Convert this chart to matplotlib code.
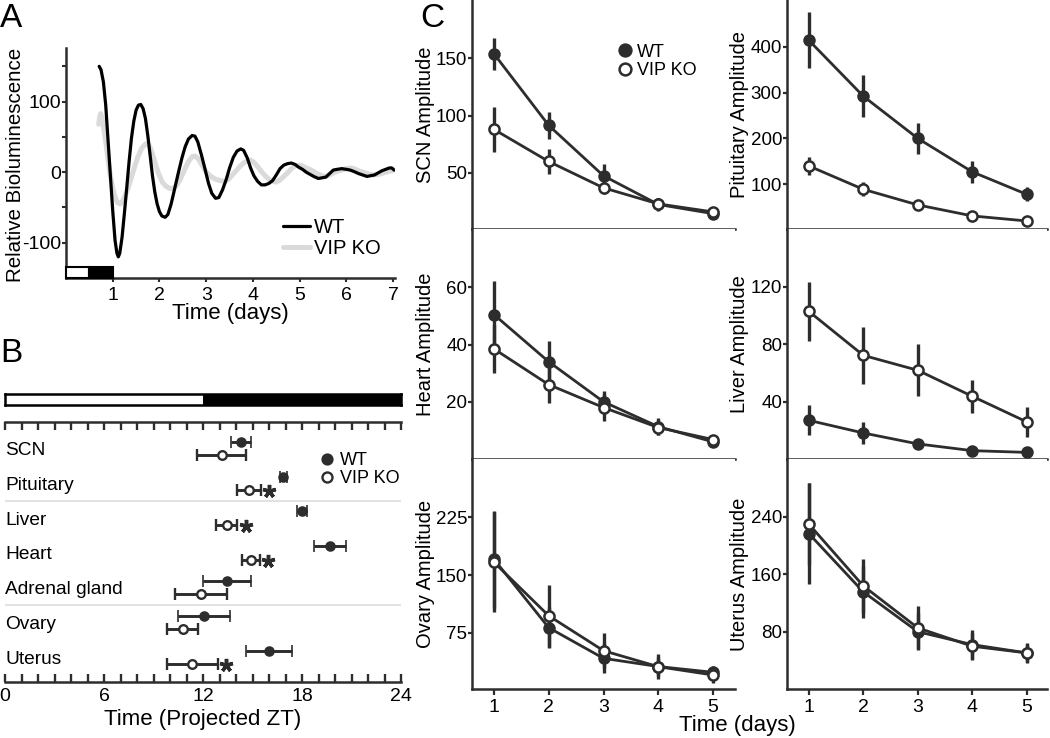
import matplotlib
matplotlib.use('Agg')
import matplotlib.pyplot as plt
from matplotlib.patches import Rectangle
from matplotlib.lines import Line2D
from matplotlib.ticker import MultipleLocator, FixedLocator

plt.rcParams['font.family'] = ['Liberation Sans', 'DejaVu Sans']

DARK = '#2d2d2d'
W, H = 1050, 738

# ---------------- Panel A data (bioluminescence traces) ----------------
a_wt_days = [0.71, 0.75, 0.80, 0.85, 0.90, 0.95, 1.00, 1.05, 1.09, 1.12, 1.15, 1.20, 1.25, 1.30,
             1.35, 1.40, 1.45, 1.50, 1.55, 1.60, 1.65, 1.70, 1.75, 1.80, 1.85, 1.90, 1.95, 2.00,
             2.05, 2.12, 2.18, 2.25, 2.32, 2.40, 2.48, 2.55, 2.62, 2.70, 2.76, 2.82, 2.90, 2.98,
             3.05, 3.12, 3.20, 3.27, 3.35, 3.43, 3.50, 3.58, 3.66, 3.74, 3.80, 3.88, 3.95, 4.02,
             4.10, 4.18, 4.26, 4.34, 4.42, 4.50, 4.58, 4.66, 4.74, 4.82, 4.90, 4.98, 5.06, 5.14,
             5.22, 5.30, 5.40, 5.48, 5.56, 5.64, 5.72, 5.80, 5.90, 6.00, 6.08, 6.16, 6.26, 6.35,
             6.44, 6.52, 6.60, 6.68, 6.76, 6.84, 6.92, 6.97, 7.02]
a_wt_vals = [150, 145, 128, 95, 45, -5, -55, -97, -115, -120, -115, -92, -58, -22,
             15, 48, 72, 88, 95, 96, 90, 76, 52, 24, -5, -28, -45, -56,
             -62, -64, -60, -45, -25, -2, 20, 36, 47, 52, 51, 43, 24, 3,
             -16, -30, -37, -36, -25, -10, 6, 21, 30, 33, 31, 20, 6, -5,
             -13, -18, -18, -16, -12, -4, 5, 10, 12, 13, 11, 7, 4, 0,
             -3, -6, -9, -8, -7, -2, 3, 4, 5, 4, 3, 1, -2, -4,
             -6, -5, -4, -1, 2, 4, 6, 6, 3]
a_ko_days = [0.70, 0.72, 0.74, 0.77, 0.80, 0.85, 0.90, 0.95, 1.00, 1.05, 1.10, 1.16, 1.22, 1.30,
             1.38, 1.46, 1.54, 1.62, 1.70, 1.76, 1.82, 1.90, 1.98, 2.06, 2.14, 2.22, 2.30, 2.38,
             2.46, 2.54, 2.62, 2.70, 2.76, 2.83, 2.92, 3.00, 3.10, 3.20, 3.30, 3.40, 3.48, 3.56,
             3.64, 3.72, 3.80, 3.88, 3.95, 4.02, 4.10, 4.18, 4.26, 4.34, 4.42, 4.50, 4.58, 4.66,
             4.74, 4.82, 4.90, 4.98, 5.06, 5.14, 5.22, 5.30, 5.40, 5.48, 5.56, 5.64, 5.72, 5.80,
             5.90, 6.00, 6.10, 6.20, 6.30, 6.40, 6.50, 6.60, 6.70, 6.80, 6.90, 6.97, 7.02]
a_ko_vals = [68, 78, 83, 78, 65, 43, 18, -5, -22, -35, -43, -45, -40, -28,
             -12, 6, 22, 34, 40, 40, 32, 15, -2, -14, -20, -23, -23, -18,
             -8, 4, 15, 22, 23, 19, 9, 0, -6, -10, -12, -13, -10, -4,
             2, 8, 13, 16, 17, 14, 8, 1, -5, -10, -13, -14, -11, -6,
             -1, 5, 9, 10, 9, 6, 4, 1, -3, -5, -6, -4, -1, 1,
             3, 5, 6, 4, 1, -1, -3, -4, -3, -1, 1, 2, 3]
a_ld_bar = [(0.0, 0.5, 'white'), (0.5, 1.0, 'black')]
a_xticks = [1, 2, 3, 4, 5, 6, 7]
a_yticks = [-100, -50, 0, 50, 100, 150]
a_yticklabels = ['-100', '', '0', '', '100', '']

# ---------------- Panel B data (projected phases) ----------------
tissues = ['SCN', 'Pituitary', 'Liver', 'Heart', 'Adrenal gland', 'Ovary', 'Uterus']
tissue_group_sizes = [2, 3, 2]
b_wt_phase = [14.28, 16.87, 18.02, 19.70, 13.43, 12.06, 16.00]
b_wt_err = [0.60, 0.20, 0.30, 0.95, 1.45, 1.55, 1.37]
b_ko_phase = [13.13, 14.79, 13.43, 14.89, 11.88, 10.77, 11.35]
b_ko_err = [1.50, 0.70, 0.65, 0.55, 1.60, 0.95, 1.55]
b_significant = [False, True, True, True, False, False, True]
b_ld_bar = [(0, 12, 'white'), (12, 24, 'black')]
b_major_ticks = [0, 6, 12, 18, 24]

# ---------------- Panel C data (amplitudes) ----------------
days = [1, 2, 3, 4, 5]
scn_wt = [154, 91.5, 47.5, 22.5, 14.5]
scn_wt_err = [14, 12, 10, 6, 3]
scn_ko = [88, 60, 37, 23, 16]
scn_ko_err = [19.5, 11, 5.5, 5, 3]
pit_wt = [414, 292, 200, 127, 78]
pit_wt_err = [61, 46, 33, 24, 15]
pit_ko = [140, 89, 55, 31, 20]
pit_ko_err = [19, 15, 6, 4, 3]
heart_wt = [50.5, 34, 20, 11.3, 6]
heart_wt_err = [11.7, 7.2, 3.8, 3, 1]
heart_ko = [38.5, 26, 18, 11, 6.8]
heart_ko_err = [8.5, 6.4, 4.7, 2.5, 1]
liver_wt = [27, 18.2, 10.6, 5.9, 4.7]
liver_wt_err = [10.5, 7.4, 2, 1, 1]
liver_ko = [102.8, 72.2, 61.8, 43.7, 25.9]
liver_ko_err = [20.5, 20, 18, 11.7, 10.5]
ovary_wt = [170.5, 81.5, 41.7, 31, 23.5]
ovary_wt_err = [63, 27, 19.5, 12, 8]
ovary_ko = [166.6, 97, 51.6, 30.8, 20]
ovary_ko_err = [65, 40, 23, 16, 10]
uterus_wt = [216.6, 135.4, 80, 62, 50.5]
uterus_wt_err = [70, 36, 26, 21, 14]
uterus_ko = [229.8, 143.7, 85.3, 59.8, 50.5]
uterus_ko_err = [57, 37, 30, 18, 12]

fig = plt.figure(figsize=(W / 100, H / 100), dpi=100)


def px_axes(x0, y0, x1, y1):
    return fig.add_axes([x0 / W, 1 - y1 / H, (x1 - x0) / W, (y1 - y0) / H])


def style_spines(ax, visible=('left', 'bottom'), lw=1.8):
    for s in ['left', 'right', 'top', 'bottom']:
        ax.spines[s].set_visible(s in visible)
        ax.spines[s].set_linewidth(lw)
        ax.spines[s].set_color(DARK)


# ======================= Panel A =======================
axA = px_axes(66, 48, 395, 278)
axA.plot(a_ko_days, a_ko_vals, color='#dadada', lw=3.6, label='VIP KO', zorder=2,
         solid_capstyle='round')
axA.plot(a_wt_days, a_wt_vals, color='black', lw=2.3, label='WT', zorder=3,
         solid_capstyle='round')
axA.set_xlim(0, 7.04)
axA.set_ylim(-150, 176)
for x0, x1, c in a_ld_bar:
    axA.add_patch(Rectangle((x0, -150), x1 - x0, 15.5, facecolor=c, edgecolor='black',
                            lw=1.5, zorder=4, clip_on=False))
style_spines(axA)
axA.set_xticks(a_xticks)
axA.set_yticks(a_yticks)
axA.set_yticklabels(a_yticklabels)
axA.tick_params(axis='both', direction='out', length=3, width=1.5, color=DARK,
                labelsize=14)
axA.tick_params(axis='x', pad=3.5)
axA.tick_params(axis='y', pad=0.5)
axA.set_ylabel('Relative Bioluminescence', fontsize=14.8)
axA.yaxis.set_label_coords(-0.126, 0.49)
axA.set_xlabel('Time (days)', fontsize=16)
axA.xaxis.set_label_coords(0.5, -0.11)
hA, lA = axA.get_legend_handles_labels()
axA.legend([hA[1], hA[0]], [lA[1], lA[0]], loc='upper left', bbox_to_anchor=(0.66, 0.262),
           frameon=False, fontsize=14.5, handlelength=1.35, handletextpad=0.2,
           labelspacing=0.12, borderpad=0, borderaxespad=0)

# ======================= Panel B =======================
# light/dark bar
axBbar = px_axes(5, 394, 401, 405)
axBbar.set_xlim(0, 24)
axBbar.set_ylim(0, 1)
for x0, x1, c in b_ld_bar:
    axBbar.add_patch(Rectangle((x0, 0), x1 - x0, 1, facecolor=c, edgecolor='none'))
for s in axBbar.spines.values():
    s.set_linewidth(1.8)
    s.set_color('black')
axBbar.set_xticks([])
axBbar.set_yticks([])

axB = px_axes(5, 422, 401, 682)
row_pos = list(range(len(tissues)))
off = 0.19
wt_y = [r - off for r in row_pos]
ko_y = [r + off for r in row_pos]
axB.errorbar(b_wt_phase, wt_y, xerr=b_wt_err, fmt='o', color=DARK, ms=6.4, mfc=DARK,
             mec=DARK, mew=1.2, elinewidth=2.1, capsize=4.5, capthick=2.1, zorder=3)
axB.errorbar(b_ko_phase, ko_y, xerr=b_ko_err, fmt='o', color=DARK, ms=6.2, mfc='white',
             mec=DARK, mew=1.7, elinewidth=2.1, capsize=4.5, capthick=2.1, zorder=3)
star_x = [p + e + 0.52 for p, e, s in zip(b_ko_phase, b_ko_err, b_significant) if s]
star_y = [y + 0.04 for y, s in zip(ko_y, b_significant) if s]
axB.plot(star_x, star_y, ls='none', marker=(5, 2, 0), ms=9.5, mew=2.5, color=DARK,
         zorder=3)
for r, name in zip(row_pos, tissues):
    axB.text(0.0, r + 0.06, name, ha='left', va='center', fontsize=13.8)
cum = 0
for g in tissue_group_sizes[:-1]:
    cum += g
    axB.axhline(cum - 0.5, color='#dddddd', lw=1.2, zorder=1)
axB.set_xlim(0, 24)
axB.set_ylim((682 - 448.5) / 34.8, (422 - 448.5) / 34.8)
style_spines(axB, visible=('top', 'bottom'))
axB.set_yticks([])
axB.xaxis.set_major_locator(FixedLocator(b_major_ticks))
axB.xaxis.set_minor_locator(MultipleLocator(1))
axB.tick_params(axis='x', which='both', direction='in', top=True, bottom=True,
                labeltop=False, length=6, width=1.7, color=DARK, labelsize=14, pad=4)
axB.set_xlabel('Time (Projected ZT)', fontsize=16)
axB.xaxis.set_label_coords(0.5, -0.105)
b_handles = [Line2D([], [], ls='none', marker='o', ms=7.6, mfc=DARK, mec=DARK, mew=1.2),
             Line2D([], [], ls='none', marker='o', ms=7.2, mfc='white', mec=DARK, mew=1.7)]
axB.legend(b_handles, ['WT', 'VIP KO'], loc='upper left', bbox_to_anchor=(0.795, 0.885),
           frameon=False, fontsize=13, handlelength=0.8, handletextpad=0.3,
           labelspacing=0.08, borderpad=0, borderaxespad=0)

# ======================= Panel C =======================
panels = [
    ('SCN Amplitude', scn_wt, scn_wt_err, scn_ko, scn_ko_err, (1.1, 200.9), [50, 100, 150], 0, 0),
    ('Pituitary Amplitude', pit_wt, pit_wt_err, pit_ko, pit_ko_err, (2.5, 501.8), [100, 200, 300, 400], 0, 1),
    ('Heart Amplitude', heart_wt, heart_wt_err, heart_ko, heart_ko_err, (0.0, 80.4), [20, 40, 60], 1, 0),
    ('Liver Amplitude', liver_wt, liver_wt_err, liver_ko, liver_ko_err, (0.1, 160.1), [40, 80, 120], 1, 1),
    ('Ovary Amplitude', ovary_wt, ovary_wt_err, ovary_ko, ovary_ko_err, (1.8, 300.8), [75, 150, 225], 2, 0),
    ('Uterus Amplitude', uterus_wt, uterus_wt_err, uterus_ko, uterus_ko_err, (0.3, 320.3), [80, 160, 240], 2, 1),
]
row_px = [(0, 229), (229, 459), (459, 689)]
col_px = [(472, 735), (787, 1047)]
col_xlim = [(0.6, 5.4), (0.6, 5.37)]
col_label_x = [-0.139, -0.146]

axC0 = None
for label, wt, wte, ko, koe, ylim, yt, r, c in panels:
    ax = px_axes(col_px[c][0], row_px[r][0], col_px[c][1], row_px[r][1])
    ax.errorbar(days, wt, yerr=wte, fmt='-o', color=DARK, lw=2.0, elinewidth=2.4, capsize=0,
                ms=7.6, mfc=DARK, mec=DARK, mew=1.4, zorder=3, label='WT')
    ax.errorbar(days, ko, yerr=koe, fmt='-o', color=DARK, lw=2.0, elinewidth=2.4, capsize=0,
                ms=7.3, mfc='white', mec=DARK, mew=1.8, zorder=4, label='VIP KO')
    ax.set_xlim(*col_xlim[c])
    ax.set_ylim(*ylim)
    ax.set_xticks(days)
    ax.set_yticks(yt)
    style_spines(ax)
    ax.tick_params(axis='both', direction='out', width=1.6, color=DARK, labelsize=13.5)
    ax.tick_params(axis='x', length=4, pad=3, labelsize=14)
    ax.tick_params(axis='y', length=3, pad=0.5)
    if r < 2:
        ax.tick_params(axis='x', labelbottom=False)
    ax.set_ylabel(label, fontsize=14.5)
    ax.yaxis.set_label_coords(col_label_x[c], 0.5)
    if r == 0 and c == 0:
        axC0 = ax

c_handles = [Line2D([], [], ls='none', marker='o', ms=9, mfc=DARK, mec=DARK, mew=1.3),
             Line2D([], [], ls='none', marker='o', ms=8.5, mfc='white', mec=DARK, mew=1.8)]
axC0.legend(c_handles, ['WT', 'VIP KO'], loc='upper left', bbox_to_anchor=(0.553, 0.81),
            frameon=False, fontsize=13, handlelength=0.8, handletextpad=0.3,
            labelspacing=0.1, borderpad=0, borderaxespad=0)

fig.text(737 / W, 1 - 715 / H, 'Time (days)', ha='center', va='top', fontsize=16)

# panel letters
fig.text(0.0, 1 - 27 / H, 'A', fontsize=24, ha='left', va='baseline')
fig.text(0.0, 1 - 362 / H, 'B', fontsize=24, ha='left', va='baseline')
fig.text(420 / W, 1 - 27 / H, 'C', fontsize=24, ha='left', va='baseline')

fig.savefig('out.png', dpi=100)
